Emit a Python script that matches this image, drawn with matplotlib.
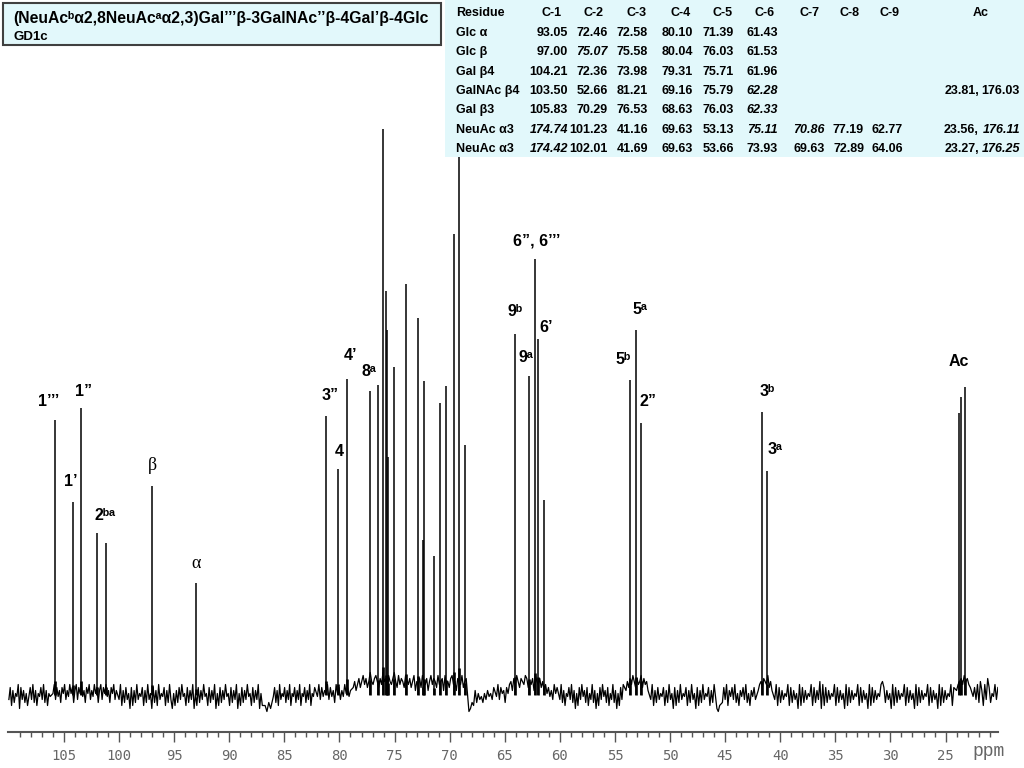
import numpy as np
import matplotlib
matplotlib.use("Agg")
import matplotlib.pyplot as plt
from matplotlib.patches import Rectangle

# 13C peak list: shift (ppm) and peak height above baseline
peak_ppm = [105.83, 104.21, 103.50, 102.01, 101.23, 97.00, 93.05,
            81.21, 80.10, 79.31, 77.19, 76.53, 76.03, 75.79, 75.71, 75.58,
            75.07, 73.98, 72.89, 72.46, 72.36, 71.39, 70.86, 70.29, 69.63,
            69.16, 68.63, 64.06, 62.77, 62.28, 61.96, 61.43, 53.66, 53.13,
            52.66, 41.69, 41.16, 23.81, 23.56, 23.27]
peak_height = [275, 193, 287, 162, 152, 209, 112,
               279, 226, 316, 304, 310, 566, 404, 365, 238,
               328, 411, 377, 155, 314, 139, 292, 309, 461,
               538, 250, 361, 319, 436, 356, 195, 315, 365,
               272, 283, 224, 282, 298, 308]

# baseline noise read off the trace as hex codes (5-6 = zero level),
# each segment spread evenly between its start and end shift
noise_segments = [
    (110.0, 106.25, "48273659184736258493726584937265"),
    (106.0, 100.25, "69485738694759683794869573869475968379486957386947"),
    (100.0, 87.0, "4927384618273946582739461837294658273941627384956283749162"
                  "837495628374916283749562837491628374956283749162"),
    (86.75, 86.25, "2031"),
    (86.0, 82.25, "5837294658374926583749265837492658"),
    (82.0, 79.0, "594857694857396847596857"),
    (78.75, 74.0, "8A79B8AC9B8ADA9BCA8B9DAB8CA9BDA8C9BA8C"),
    (73.75, 68.5, "9B8AC7A9B8CA9B7AC9BA8C9AB7C9A8BC9A7BA9C8AB"),
    (68.25, 66.0, "01327364536475648"),
    (65.75, 60.25, "5948673869A7B9CA8BA9CB8A9B7CA9B8A7968574968"),
    (60.0, 54.25, "49372658493716284957382649371628495738264937162849"),
    (54.0, 52.0, "7A8B9CA8B9AC8B9A7"),
    (51.75, 46.0, "4927384658273946182739465827394618273946582739"),
    (45.75, 45.5, "102"),
    (45.25, 42.25, "3849275849362758493627584"),
    (42.0, 40.75, "79A8BA9C8A7"),
    (40.5, 24.25, "4928374659283746192837465928374A192837465928374619283746592837"
                  "461928374659A8374619283746592837461928374659283746192837465928"),
    (24.0, 22.75, "79AB9CAB98"),
    (22.5, 20.25, "58493A7294B8365948"),
]

# peak annotations
peak_labels = ["1’’’", "1’", "1”", "2ᵇᵃ", "3”", "4", "4’", "8ᵃ",
               "9ᵇ", "9ᵃ", "6”, 6’’’", "6’", "5ᵇ", "5ᵃ", "2”", "3ᵇ", "3ᵃ", "Ac"]
label_ppm = [106.36, 104.36, 103.19, 101.28, 80.86, 80.05, 78.96, 77.32,
             64.07, 63.08, 62.08, 61.26, 54.27, 52.73, 52.0, 41.21, 40.48, 23.78]
label_y = [293, 213, 303, 180, 299, 243, 340, 323,
           383, 337, 454, 367, 335, 385, 293, 303, 246, 333]
greek_labels = ["β", "α"]
greek_ppm = [97.01, 93.02]
greek_y = [229, 132]

# assignment table
residues = ["Glc α", "Glc β", "Gal β4", "GalNAc β4", "Gal β3", "NeuAc α3", "NeuAc α3"]
col_heads = ["C-1", "C-2", "C-3", "C-4", "C-5", "C-6", "C-7", "C-8", "C-9"]
shifts = [
    ["93.05", "72.46", "72.58", "80.10", "71.39", "61.43", "", "", ""],
    ["97.00", "75.07", "75.58", "80.04", "76.03", "61.53", "", "", ""],
    ["104.21", "72.36", "73.98", "79.31", "75.71", "61.96", "", "", ""],
    ["103.50", "52.66", "81.21", "69.16", "75.79", "62.28", "", "", ""],
    ["105.83", "70.29", "76.53", "68.63", "76.03", "62.33", "", "", ""],
    ["174.74", "101.23", "41.16", "69.63", "53.13", "75.11", "70.86", "77.19", "62.77"],
    ["174.42", "102.01", "41.69", "69.63", "53.66", "73.93", "69.63", "72.89", "64.06"],
]
ac_shifts = [None, None, None, ("23.81", "176.03"), None,
             ("23.56", "176.11"), ("23.27", "176.25")]
italic_cells = {(1, 1), (3, 5), (4, 5), (5, 0), (5, 5), (5, 6), (6, 0)}
italic_ac_rows = {5, 6}

W, H = 1024, 768
fig = plt.figure(figsize=(W / 100, H / 100), dpi=100)
fx = lambda x: x / W
fy = lambda y: 1 - y / H

ax = fig.add_axes([fx(8), fy(732), 990 / W, 732 / H])
ax.set_xlim(110.08, 20.24)
ax.set_ylim(-37, 695)
for s in ["left", "right", "top"]:
    ax.spines[s].set_visible(False)
ax.spines["bottom"].set_color("#555555")
ax.spines["bottom"].set_linewidth(1.5)
ax.set_yticks([])
ax.set_xticks(range(25, 106, 5))
ax.set_xticks(range(21, 110), minor=True)
ax.tick_params(axis="x", which="major", length=7, width=1, color="#555555",
               labelcolor="#666666", labelsize=10, pad=5)
ax.tick_params(axis="x", which="minor", length=3.5, width=1, color="#555555")
for lbl in ax.get_xticklabels():
    lbl.set_fontfamily("DejaVu Sans Mono")

noise_x, noise_y = [], []
for start, end, codes in noise_segments:
    noise_x.extend(np.linspace(start, end, len(codes)))
    noise_y.extend((int(c, 16) - 5.5) * 3.0 for c in codes)

ax.plot(noise_x, noise_y, color="black", lw=0.9)
ax.vlines(peak_ppm, 0, peak_height, color="black", lw=1.1)
# slightly broadened foot of each line
ax.vlines(peak_ppm, 0, np.array(peak_height) * 0.05, color="black", lw=1.9)

lab_font = ["Liberation Sans", "DejaVu Sans"]
for t, p, y in zip(peak_labels, label_ppm, label_y):
    ax.text(p, y, t, ha="center", va="center", fontsize=11.5,
            fontweight="bold", family=lab_font)
for t, p, y in zip(greek_labels, greek_ppm, greek_y):
    ax.text(p, y, t, ha="center", va="center", fontsize=13,
            family=["Liberation Serif", "DejaVu Serif"])

ppm_txt = ax.text(fx(972), fy(751), "ppm", transform=fig.transFigure,
                  ha="left", va="center", fontsize=13, color="#666666",
                  family="Liberation Mono")
ppm_txt.set_clip_path(Rectangle((0, 0), fx(999), 1, transform=fig.transFigure))

# title box
fig.add_artist(Rectangle((fx(3), fy(45)), 438 / W, 42 / H, transform=fig.transFigure,
                         facecolor="#e2f8fb", edgecolor="#404040", lw=1.5, zorder=5))
fig.text(fx(13), fy(19), "(NeuAcᵇα2,8NeuAcᵃα2,3)Gal’’’β-3GalNAc’’β-4Gal’β-4Glc",
         ha="left", va="center", fontsize=11.3, fontweight="bold", family=lab_font, zorder=6)
fig.text(fx(13), fy(37), "GD1c", ha="left", va="center", fontsize=9.5,
         fontweight="bold", family=lab_font, zorder=6)

# table
fig.add_artist(Rectangle((fx(445), fy(157)), 579 / W, 157 / H, transform=fig.transFigure,
                         facecolor="#e2f8fb", edgecolor="none", zorder=5))
head_x = [552, 594, 637, 681, 723, 765, 810, 850, 890]
val_right = [568, 608, 648, 693, 734, 778, 825, 864, 903]
row_y = [13, 33, 52, 72, 91, 110, 130, 149]
tfont = dict(fontsize=9, fontweight="bold", family=lab_font, va="center", zorder=6)
fig.text(fx(456), fy(row_y[0]), "Residue", ha="left", **tfont)
for h, x in zip(col_heads, head_x):
    fig.text(fx(x), fy(row_y[0]), h, ha="center", **tfont)
fig.text(fx(981), fy(row_y[0]), "Ac", ha="center", **tfont)
for r, (name, vals) in enumerate(zip(residues, shifts)):
    y = fy(row_y[r + 1])
    fig.text(fx(456), y, name, ha="left", **tfont)
    for c, (v, x) in enumerate(zip(vals, val_right)):
        if v:
            st = "italic" if (r, c) in italic_cells else "normal"
            fig.text(fx(x), y, v, ha="right", style=st, **tfont)
    if ac_shifts[r]:
        a, b = ac_shifts[r]
        fig.text(fx(979), y, a + ",", ha="right", **tfont)
        st = "italic" if r in italic_ac_rows else "normal"
        fig.text(fx(1020), y, b, ha="right", style=st, **tfont)

fig.savefig("out.png", dpi=100)
